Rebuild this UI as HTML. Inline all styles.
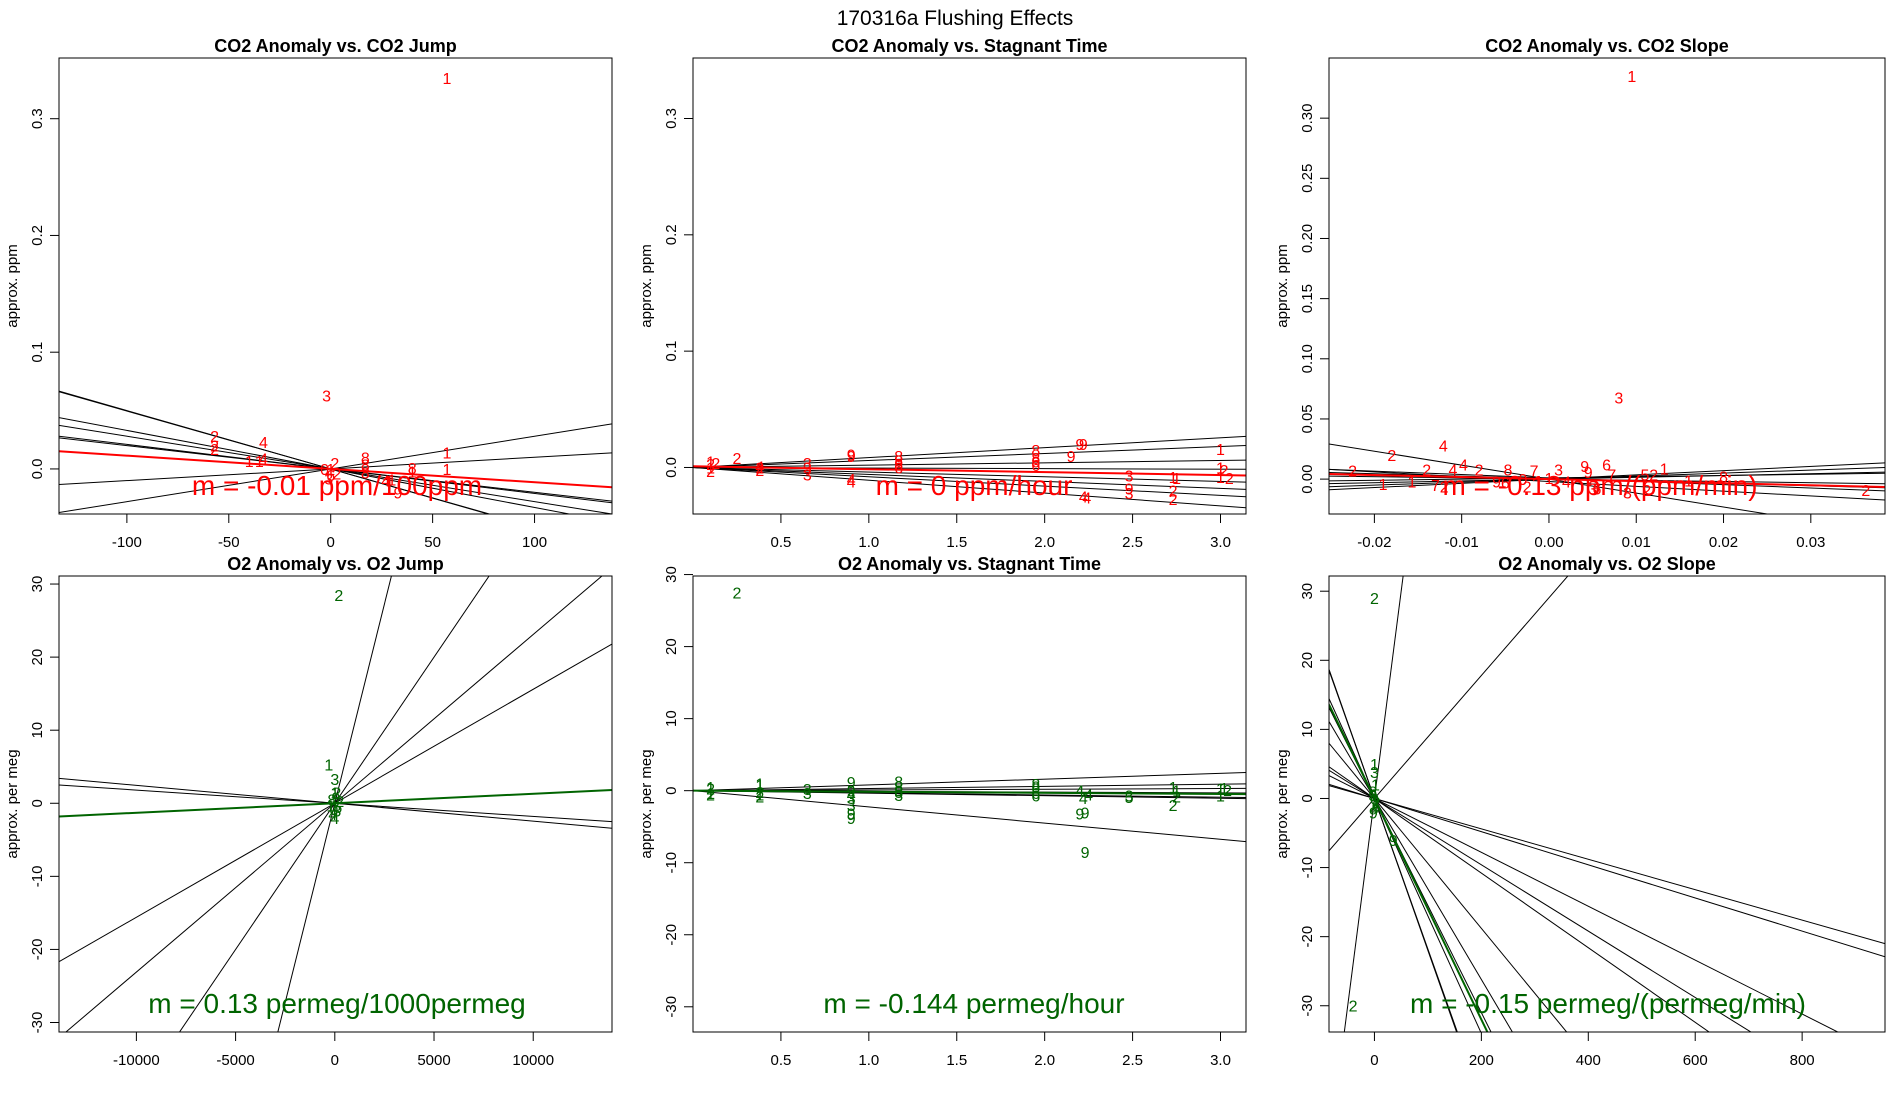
<!DOCTYPE html>
<html><head><meta charset="utf-8"><style>
html,body{margin:0;padding:0;width:1900px;height:1100px;overflow:hidden;background:#fff;}
svg{display:block;font-family:"Liberation Sans",sans-serif;}
</style></head><body>
<svg id="chart" width="1900" height="1100" viewBox="0 0 1900 1100" xmlns="http://www.w3.org/2000/svg">
<rect width="1900" height="1100" fill="#fff"/>
<text x="955" y="25" font-size="21" text-anchor="middle">170316a    Flushing Effects</text>
</svg>
<script>
// ---- Panel 1: CO2 Anomaly vs CO2 Jump ----
const p1Lab = ["1","3","2","2","2","4","1","1","4","1","1","8","8","8","2","1","0","6","9","1","8","1","4","3","2"];
const p1X = [57,-2,-57,-57,-57,-33,-40,-35,-33,57,57,17,17,17,2,0,-3,0,33,40,40,30,27,-1,3];
const p1Y = [0.335,0.063,0.028,0.020,0.017,0.023,0.007,0.007,0.009,0.014,0.000,0.010,0.004,-0.003,0.005,0,0,-0.005,-0.020,-0.002,0.001,-0.009,-0.010,-0.008,-0.004];
const p1LineB = [0,0,0,0,0,0,0,0];
const p1LineM = [-0.000496,-0.00033,-0.00028,-0.0002,0.0001,0.00028,-0.0005,-0.00021];
const p1Fit = [0.0,-0.000114];
// ---- Panel 2: CO2 Anomaly vs Stagnant Time ----
const p2Lab = ["1","2","1","2","2","2","2","2","4","3","3","3","9","9","4","4","8","8","8","6","8","8","8","6","9","9","9","4","4","3","9","3","1","1","2","2","1","1","2","1","2"];
const p2X = [0.1,0.1,0.1,0.1,0.13,0.25,0.38,0.38,0.38,0.65,0.65,0.65,0.9,0.9,0.9,0.9,1.17,1.17,1.17,1.17,1.95,1.95,1.95,1.95,2.2,2.22,2.15,2.22,2.24,2.48,2.48,2.48,2.73,2.75,2.73,2.73,3.0,3.0,3.02,3.0,3.05];
const p2Y = [0.005,0.003,0,-0.003,0.004,0.008,0,-0.002,0.001,0.004,-0.006,0,0.011,0.010,-0.010,-0.012,0.010,0.006,0.003,0,0.015,0.008,0.005,0.002,0.020,0.020,0.010,-0.025,-0.026,-0.007,-0.018,-0.022,-0.008,-0.009,-0.020,-0.027,0.016,0,-0.002,-0.008,-0.009];
const p2LineB = [0,0,0,0,0,0,0,0];
const p2LineM = [0.0085,0.006,0.002,-0.0005,-0.004,-0.006,-0.008,-0.011];
const p2Fit = [0.001,-0.0025];
// ---- Panel 3: CO2 Anomaly vs CO2 Slope ----
const p3Lab = ["1","3","4","2","2","4","2","2","4","8","7","3","9","6","9","1","5","2","7","1","1","7","2","2","3","2","3","6","2","8","6","0","1","4","9","1"];
const p3X = [0.0095,0.008,-0.0121,-0.018,-0.0225,-0.0098,-0.014,-0.008,-0.011,-0.0047,-0.0017,0.0011,0.0041,0.0066,0.0045,0.0132,0.011,0.012,0.0072,-0.019,-0.0157,-0.013,-0.012,-0.0025,0.009,0.0112,0.005,0.0055,0.0363,0.02,-0.005,-0.003,0,0.002,-0.006,0.016];
const p3Y = [0.335,0.068,0.028,0.020,0.007,0.012,0.008,0.008,0.008,0.008,0.007,0.008,0.011,0.012,0.006,0.009,0.004,0.004,0.004,-0.004,-0.002,-0.005,-0.006,-0.006,-0.011,-0.009,-0.008,-0.008,-0.009,0.002,-0.003,0,0.001,-0.002,-0.002,-0.001];
const p3LineB = [0,0.001,0.0005,0,0,0,0,0.001,-0.002];
const p3LineM = [-1.16,-0.28,-0.2,-0.1,0.15,0.25,0.35,0.1,-0.4];
const p3Fit = [0.0,-0.17];
// ---- Panel 4: O2 Anomaly vs O2 Jump ----
const p4Lab = ["2","1","3","1","4","2","8","6","9","0","2","1","4","3"];
const p4X = [200,-300,0,0,-100,100,-150,150,50,-50,250,-200,0,100];
const p4Y = [28.5,5.3,3.3,1.5,-1.5,1.5,0.5,-0.5,0.8,-0.8,0.3,-0.3,-2,-1];
const p4LineB = [0,0,0,0,0,0];
const p4LineM = [-0.000245,-0.00018,0.00156,0.00231,0.0040,0.0109];
const p4Fit = [0,0.00013];
// ---- Panel 5: O2 Anomaly vs Stagnant Time ----
const p5Lab = ["1","2","1","2","2","1","1","2","2","1","3","3","9","9","3","3","9","9","4","8","8","8","3","8","8","8","6","6","9","9","9","4","4","4","5","3","1","1","2","2","1","1","2","1"];
const p5X = [0.1,0.1,0.1,0.1,0.25,0.38,0.38,0.38,0.38,0.38,0.65,0.65,0.9,0.9,0.9,0.9,0.9,0.9,0.9,1.17,1.17,1.17,1.17,1.17,1.95,1.95,1.95,1.95,2.2,2.23,2.23,2.2,2.22,2.25,2.48,2.48,2.73,2.75,2.73,2.75,3.0,3.02,3.04,3.0];
const p5Y = [0.5,0.3,-0.3,-0.5,27.5,1,0.8,-0.2,-0.8,-0.5,0.2,-0.3,1.2,0,-1,-2,-3.2,-3.8,-0.5,1.3,0.6,-0.2,-0.6,0,0.9,0.6,-0.7,-0.3,-3.2,-3,-8.5,0,-1,-0.5,-0.9,-0.7,0.5,0,-2,-0.8,0.3,0.4,0.1,-0.7];
const p5LineB = [0,0,0,0,0,0,0];
const p5LineM = [0.8,0.3,0.1,-0.1,-0.3,-0.35,-2.25];
const p5Fit = [0,-0.15];
// ---- Panel 6: O2 Anomaly vs O2 Slope ----
const p6Lab = ["2","1","3","9","2","8","6","0","9","1","4","3","2"];
const p6X = [0,0,0,35,-40,-3,3,0,-2,2,0,-3,3];
const p6Y = [29,5,3.8,-6,-30,1,-1,0,-2,2,-1.5,0.5,-0.5];
const p6LineB = [0,0,0,0,0,0,0,0,0,0,0,0,0];
const p6LineM = [0.6,0.089,-0.024,-0.039,-0.054,-0.218,-0.131,-0.094,-0.155,-0.22,-0.048,-0.022,-0.17];
const p6Fit = [0,-0.16];

const RED="#ff0000", GREEN="#006400";
const panels = [
 {id:"co2-jump",title:"CO2 Anomaly vs. CO2 Jump",x0:59,x1:612,y0:58,y1:514,xl:[-133.3,138],yl:[-0.0386,0.352],
  xt:[-100,-50,0,50,100],xtl:["-100","-50","0","50","100"],yt:[0,0.1,0.2,0.3],ytl:["0.0","0.1","0.2","0.3"],
  yLab:"approx. ppm",col:RED,lab:p1Lab,X:p1X,Y:p1Y,B:p1LineB,M:p1LineM,fit:p1Fit,note:"m = -0.01 ppm/100ppm",nx:337},
 {id:"co2-stagnant",title:"CO2 Anomaly vs. Stagnant Time",x0:693,x1:1246,y0:58,y1:514,xl:[0.0,3.145],yl:[-0.04,0.352],
  xt:[0.5,1,1.5,2,2.5,3],xtl:["0.5","1.0","1.5","2.0","2.5","3.0"],yt:[0,0.1,0.2,0.3],ytl:["0.0","0.1","0.2","0.3"],
  yLab:"approx. ppm",col:RED,lab:p2Lab,X:p2X,Y:p2Y,B:p2LineB,M:p2LineM,fit:p2Fit,note:"m = 0 ppm/hour",nx:974},
 {id:"co2-slope",title:"CO2 Anomaly vs. CO2 Slope",x0:1329,x1:1885,y0:58,y1:514,xl:[-0.0252,0.0385],yl:[-0.029,0.35],
  xt:[-0.02,-0.01,0,0.01,0.02,0.03],xtl:["-0.02","-0.01","0.00","0.01","0.02","0.03"],yt:[0,0.05,0.1,0.15,0.2,0.25,0.3],ytl:["0.00","0.05","0.10","0.15","0.20","0.25","0.30"],
  yLab:"approx. ppm",col:RED,lab:p3Lab,X:p3X,Y:p3Y,B:p3LineB,M:p3LineM,fit:p3Fit,note:"m = -0.13 ppm/(ppm/min)",nx:1600},
 {id:"o2-jump",title:"O2 Anomaly vs. O2 Jump",x0:59,x1:612,y0:576,y1:1032,xl:[-13900,13970],yl:[-31.3,31.1],
  xt:[-10000,-5000,0,5000,10000],xtl:["-10000","-5000","0","5000","10000"],yt:[-30,-20,-10,0,10,20,30],ytl:["-30","-20","-10","0","10","20","30"],
  yLab:"approx. per meg",col:GREEN,lab:p4Lab,X:p4X,Y:p4Y,B:p4LineB,M:p4LineM,fit:p4Fit,note:"m = 0.13 permeg/1000permeg",nx:337},
 {id:"o2-stagnant",title:"O2 Anomaly vs. Stagnant Time",x0:693,x1:1246,y0:576,y1:1032,xl:[0.0,3.145],yl:[-33.5,29.8],
  xt:[0.5,1,1.5,2,2.5,3],xtl:["0.5","1.0","1.5","2.0","2.5","3.0"],yt:[-30,-20,-10,0,10,20,30],ytl:["-30","-20","-10","0","10","20","30"],
  yLab:"approx. per meg",col:GREEN,lab:p5Lab,X:p5X,Y:p5Y,B:p5LineB,M:p5LineM,fit:p5Fit,note:"m = -0.144 permeg/hour",nx:974},
 {id:"o2-slope",title:"O2 Anomaly vs. O2 Slope",x0:1329,x1:1885,y0:576,y1:1032,xl:[-85,955],yl:[-33.8,32.2],
  xt:[0,200,400,600,800],xtl:["0","200","400","600","800"],yt:[-30,-20,-10,0,10,20,30],ytl:["-30","-20","-10","0","10","20","30"],
  yLab:"approx. per meg",col:GREEN,lab:p6Lab,X:p6X,Y:p6Y,B:p6LineB,M:p6LineM,fit:p6Fit,note:"m = -0.15 permeg/(permeg/min)",nx:1608}
];
const svg=document.getElementById("chart");
const NS="http://www.w3.org/2000/svg";
function mk(tag,attrs,parent){const e=document.createElementNS(NS,tag);for(const k in attrs)e.setAttribute(k,attrs[k]);parent.appendChild(e);return e;}
panels.forEach((p,i)=>{
  const sx=v=>p.x0+(v-p.xl[0])/(p.xl[1]-p.xl[0])*(p.x1-p.x0);
  const sy=v=>p.y1-(v-p.yl[0])/(p.yl[1]-p.yl[0])*(p.y1-p.y0);
  const g=mk("g",{},svg);
  
  
  const cp=mk("clipPath",{id:"cp"+i},g);
  mk("rect",{x:p.x0,y:p.y0,width:p.x1-p.x0,height:p.y1-p.y0},cp);
  const t=mk("text",{x:(p.x0+p.x1)/2,y:p.y0-6,"font-size":18,"font-weight":"bold","text-anchor":"middle"},g);
  t.textContent=p.title;
  
  
  const yl=mk("text",{x:0,y:0,"font-size":15,"text-anchor":"middle",transform:`translate(${p.x0-42},${(p.y0+p.y1)/2}) rotate(-90)`},g);
  yl.textContent=p.yLab;
  
  
  const plot=mk("g",{"clip-path":`url(#cp${i})`},g);
  p.M.forEach((m,k)=>{
    const b=p.B[k];
    const l=mk("line",{x1:sx(p.xl[0]),y1:sy(b+m*p.xl[0]),x2:sx(p.xl[1]),y2:sy(b+m*p.xl[1]),stroke:"#000","stroke-width":1},plot);
    
    
  });
  p.X.forEach((x,k)=>{
    const tx=mk("text",{x:sx(x),y:sy(p.Y[k])+6,"font-size":16,fill:p.col,"text-anchor":"middle"},plot);
    tx.textContent=p.lab[k];
    
    
  });
  const f=mk("line",{x1:sx(p.xl[0]),y1:sy(p.fit[0]+p.fit[1]*p.xl[0]),x2:sx(p.xl[1]),y2:sy(p.fit[0]+p.fit[1]*p.xl[1]),stroke:p.col,"stroke-width":2},plot);
  
  
  const n=mk("text",{x:p.nx,y:p.y1-19,"font-size":28,fill:p.col,"text-anchor":"middle"},plot);
  n.textContent=p.note;
  
  
  const box=mk("rect",{x:p.x0,y:p.y0,width:p.x1-p.x0,height:p.y1-p.y0,fill:"none",stroke:"#000","stroke-width":1},g);
  
  
  p.xt.forEach((v,k)=>{
    mk("line",{x1:sx(v),y1:p.y1,x2:sx(v),y2:p.y1+9,stroke:"#000"},g);
    const tl=mk("text",{x:sx(v),y:p.y1+33,"font-size":15,"text-anchor":"middle"},g);
    tl.textContent=p.xtl[k];
    
    
  });
  p.yt.forEach((v,k)=>{
    mk("line",{x1:p.x0-9,y1:sy(v),x2:p.x0,y2:sy(v),stroke:"#000"},g);
    const tl=mk("text",{x:0,y:0,"font-size":15,"text-anchor":"middle",transform:`translate(${p.x0-17},${sy(v)}) rotate(-90)`},g);
    tl.textContent=p.ytl[k];
    
    
  });
});
</script>
</body></html>
